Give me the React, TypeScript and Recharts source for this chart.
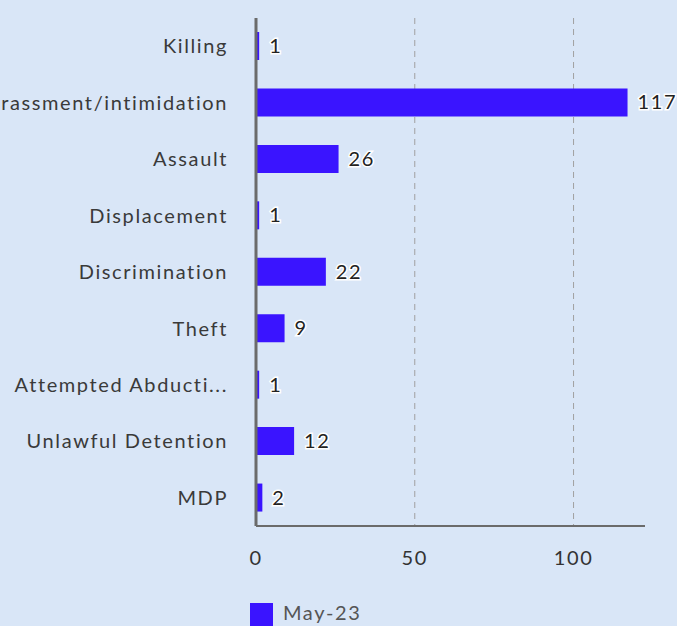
import React from "react";
import { BarChart, Bar, XAxis, YAxis, CartesianGrid, LabelList, Legend } from "recharts";

const categories = [
  "Killing",
  "Harassment/intimidation",
  "Assault",
  "Displacement",
  "Discrimination",
  "Theft",
  "Attempted Abducti...",
  "Unlawful Detention",
  "MDP",
];
const may23 = [1, 117, 26, 1, 22, 9, 1, 12, 2];
const xTicks = [0, 50, 100];
const seriesName = "May-23";

const data = categories.map((c, i) => ({ name: c, value: may23[i] }));

const FONT = "Lato, 'Open Sans', sans-serif";
const FS = 20;
const LS = 1.6;

const renderLabel = (props: any) => {
  const { x, y, width, height, value } = props;
  return (
    <text
      x={x + width + 10}
      y={y + height / 2}
      dy="0.35em"
      fill="#222"
      stroke="#ffffff"
      strokeWidth={3}
      paintOrder="stroke"
      fontFamily={FONT}
      fontSize={FS}
      letterSpacing={LS}
    >
      {value}
    </text>
  );
};

export default function App() {
  return (
    <div
      style={{
        position: "absolute",
        left: 0,
        top: 0,
        width: 677,
        height: 626,
        background: "#d9e6f7",
        overflow: "hidden",
        fontFamily: FONT,
      }}
    >
      <BarChart
        width={677}
        height={626}
        data={data}
        layout="vertical"
        margin={{ top: 18, right: 32, left: 0, bottom: 0 }}
      >
        <CartesianGrid horizontal={false} syncWithTicks stroke="#a0a0a0" strokeDasharray="6 5" />
        <XAxis
          type="number"
          domain={[0, 122.5]}
          ticks={xTicks}
          tickLine={false}
          axisLine={{ stroke: "#6b6b6b", strokeWidth: 2 }}
          tick={{ fill: "#333", fontSize: FS, fontFamily: FONT, letterSpacing: LS }}
          tickMargin={19}
          height={58}
        />
        <YAxis
          type="category"
          dataKey="name"
          width={256}
          tickLine={false}
          axisLine={{ stroke: "#6b6b6b", strokeWidth: 3 }}
          tick={{ fill: "#3a3a3a", fontSize: FS, fontFamily: FONT, letterSpacing: LS }}
          tickMargin={22}
          interval={0}
        />
        <Legend
          verticalAlign="bottom"
          align="left"
          iconType="square"
          iconSize={23}
          height={42}
          wrapperStyle={{ top: 600, left: 250, fontFamily: FONT, fontSize: FS, letterSpacing: LS }}
          formatter={(v: string) => <span style={{ color: "#555", marginLeft: 6 }}>{v}</span>}
        />
        <Bar dataKey="value" name={seriesName} fill="#3a14ff" barSize={28} isAnimationActive={false}>
          <LabelList dataKey="value" content={renderLabel} />
        </Bar>
      </BarChart>
    </div>
  );
}
